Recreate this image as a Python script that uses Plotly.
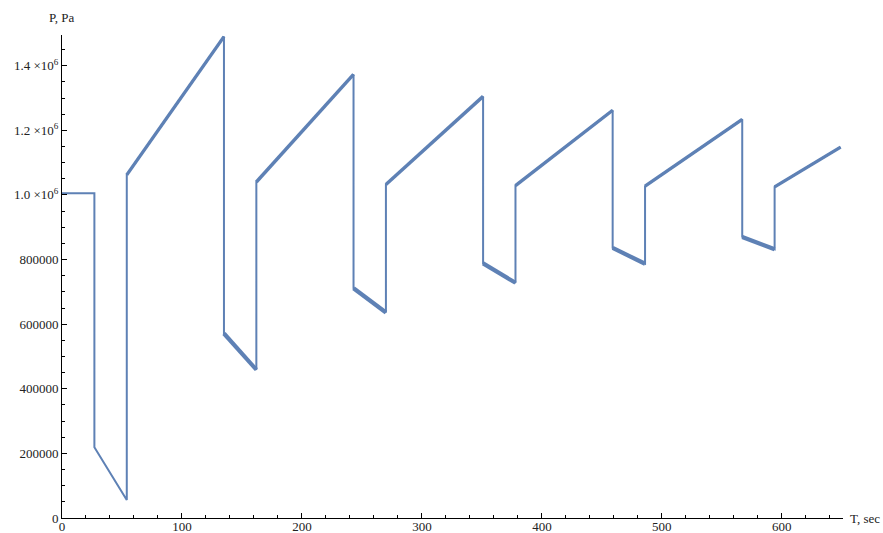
import plotly.graph_objects as go

# Corner points of the pressure trace (time in s, pressure in Pa)
t_sec = [0, 27, 27, 54, 54, 135, 135, 162, 162, 243, 243, 270, 270,
         351, 351, 378, 378, 459, 459, 486, 486, 567, 567, 594, 594, 649]
p_pa = [1.005e6, 1.005e6, 219000, 56000, 1.062e6, 1.490e6, 571000, 459000,
        1.040e6, 1.373e6, 711000, 636000, 1.032e6, 1.305e6, 788000, 728000,
        1.029e6, 1.262e6, 836000, 787000, 1.027e6, 1.234e6, 870000, 832000,
        1.025e6, 1.148e6]

y_tick_vals = [0, 200000, 400000, 600000, 800000, 1.0e6, 1.2e6, 1.4e6]
y_tick_text = ["0", "200000", "400000", "600000", "800000",
               "1.0 ×10<sup>6</sup>", "1.2 ×10<sup>6</sup>", "1.4 ×10<sup>6</sup>"]
x_tick_vals = [0, 100, 200, 300, 400, 500, 600]

color = "#5E81B5"
fig = go.Figure()
fig.add_trace(go.Scatter(x=t_sec, y=p_pa, mode="lines",
                         line=dict(color=color, width=2), hoverinfo="skip"))

# thicker (jagged-looking) ramp and decay segments
for i in range(len(t_sec) - 1):
    if t_sec[i + 1] != t_sec[i] and i >= 3:
        rising = p_pa[i + 1] > p_pa[i]
        fig.add_trace(go.Scatter(x=[t_sec[i], t_sec[i + 1]], y=[p_pa[i], p_pa[i + 1]],
                                 mode="lines",
                                 line=dict(color=color, width=3.4 if rising else 4.2),
                                 hoverinfo="skip"))

font = dict(family="Liberation Serif", size=13, color="#222")
fig.update_layout(
    width=883, height=533,
    margin=dict(l=62, r=40, t=35, b=15),
    plot_bgcolor="white", paper_bgcolor="white",
    showlegend=False,
    font=font,
    xaxis=dict(range=[0, 651], showgrid=False, zeroline=False,
               showline=True, linecolor="black", linewidth=1,
               ticks="inside", ticklen=5, tickcolor="black",
               tickvals=x_tick_vals, tickfont=font, ticklabelstandoff=-4,
               minor=dict(ticks="inside", ticklen=3, dtick=20, tickcolor="black"),
               automargin=False),
    yaxis=dict(range=[0, 1.495e6], showgrid=False, zeroline=False,
               showline=True, linecolor="black", linewidth=1,
               ticks="inside", ticklen=5, tickcolor="black",
               tickvals=y_tick_vals, ticktext=y_tick_text, tickfont=font,
               minor=dict(ticks="inside", ticklen=3, dtick=50000, tick0=0, tickcolor="black"),
               automargin=False),
    annotations=[
        dict(text="P, Pa", x=0, xref="x", y=1.0, yref="paper", xanchor="center",
             yanchor="bottom", yshift=8, showarrow=False, font=font),
        dict(text="T, sec", x=1.0, xref="paper", y=0, yref="y", xanchor="left",
             yanchor="middle", xshift=5, showarrow=False, font=font),
    ],
)

fig.write_html("out.html", config={"displayModeBar": False},
               post_script="document.body.style.margin='0';")
